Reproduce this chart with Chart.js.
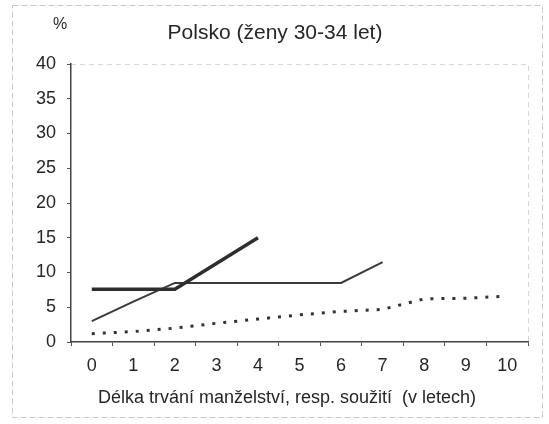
<!DOCTYPE html>
<html>
<head>
<meta charset="utf-8">
<script src="https://cdn.jsdelivr.net/npm/chart.js@4.4.0/dist/chart.umd.min.js"></script>
<style>
  html, body { margin: 0; padding: 0; background: #fff; }
  canvas { display: block; }
</style>
</head>
<body>
<canvas id="graf" width="549" height="424"></canvas>
<script>
// --- Data ---
const roky = ['0', '1', '2', '3', '4', '5', '6', '7', '8', '9', '10'];
const radaTlusta = [7.6, 7.6, 7.6, 11.3, 15.0, null, null, null, null, null, null];
const radaTenka = [3.0, 5.8, 8.5, 8.5, 8.5, 8.5, 8.5, 11.5, null, null, null];
const radaTeckovana = [1.2, 1.5, 2.0, 2.7, 3.3, 3.9, 4.4, 4.7, 6.2, 6.3, 6.6];
const titulek = 'Polsko (ženy 30-34 let)';
const popisX = 'Délka trvání manželství, resp. soužití  (v letech)';
const popisY = '%';

const pismo = '"Liberation Sans", Arial, sans-serif';
const barvaTextu = '#262626';

// --- Ramecek, titulek a popisy os ---
const ramecek = {
    id: 'ramecek',
    beforeDraw(chart) {
        const c = chart.ctx;
        c.save();
        c.fillStyle = '#fff';
        c.fillRect(0, 0, chart.width, chart.height);
        c.strokeStyle = '#c8c8c8';
        c.lineWidth = 1;
        c.setLineDash([6, 3]);
        c.strokeRect(12.5, 5.5, 530, 412);
        // horni a prava hrana plochy grafu
        const a = chart.chartArea;
        c.strokeStyle = '#d6d6d6';
        c.setLineDash([5, 4]);
        c.beginPath();
        c.moveTo(a.left, a.top + 0.5);
        c.lineTo(a.right + 0.5, a.top + 0.5);
        c.lineTo(a.right + 0.5, a.bottom);
        c.stroke();
        c.restore();
    },
    afterDraw(chart) {
        const c = chart.ctx;
        c.save();
        c.fillStyle = barvaTextu;
        c.textAlign = 'center';
        c.textBaseline = 'middle';
        c.font = '21px ' + pismo;
        c.fillText(titulek, 275, 33);
        c.font = '16px ' + pismo;
        c.fillText(popisY, 60, 25);
        c.font = '18px ' + pismo;
        c.fillText(popisX, 287, 398);
        c.restore();
    }
};

new Chart(document.getElementById('graf'), {
    type: 'line',
    data: {
        labels: roky,
        datasets: [
            {
                data: radaTlusta,
                borderColor: '#2e2e2e',
                borderWidth: 3.5,
                pointRadius: 0,
                tension: 0
            },
            {
                data: radaTenka,
                borderColor: '#3a3a3a',
                borderWidth: 2,
                pointRadius: 0,
                tension: 0
            },
            {
                data: radaTeckovana,
                borderColor: '#333',
                borderWidth: 3,
                borderDash: [3, 8],
                pointRadius: 0,
                tension: 0
            }
        ]
    },
    options: {
        responsive: false,
        animation: false,
        layout: { padding: { left: 0, top: 64, right: 21, bottom: 0 } },
        plugins: {
            legend: { display: false },
            tooltip: { enabled: false },
            title: { display: false }
        },
        scales: {
            x: {
                type: 'category',
                offset: true,
                grid: {
                    offset: true,
                    drawOnChartArea: false,
                    tickLength: 4,
                    color: '#555'
                },
                border: { color: '#444', width: 1.5 },
                ticks: {
                    color: barvaTextu,
                    font: { family: pismo, size: 18 },
                    padding: 9,
                    maxRotation: 0
                },
                afterFit(scale) { scale.height = 82; }
            },
            y: {
                min: 0,
                max: 40,
                grid: {
                    drawOnChartArea: false,
                    tickLength: 4,
                    color: '#555'
                },
                border: { color: '#444', width: 1.5 },
                ticks: {
                    stepSize: 5,
                    color: barvaTextu,
                    font: { family: pismo, size: 18 },
                    padding: 11
                },
                afterFit(scale) { scale.width = 71; }
            }
        }
    },
    plugins: [ramecek]
});
</script>
</body>
</html>
